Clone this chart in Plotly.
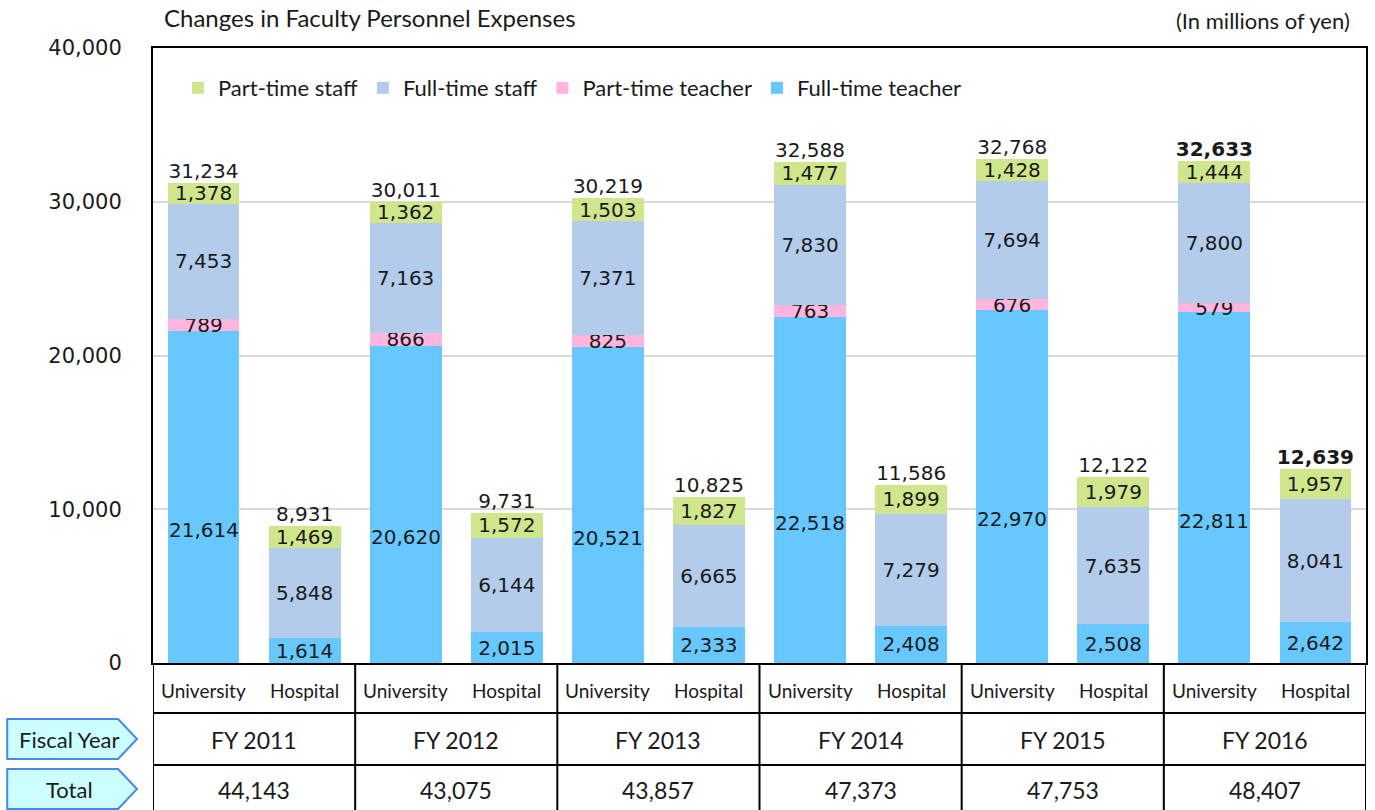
import plotly.graph_objects as go

# ---------------- data ----------------
fiscal_years = ["FY 2011", "FY 2012", "FY 2013", "FY 2014", "FY 2015", "FY 2016"]
units = ["University", "Hospital"]
ft_teacher = [21614, 1614, 20620, 2015, 20521, 2333, 22518, 2408, 22970, 2508, 22811, 2642]
pt_teacher = [789, 0, 866, 0, 825, 0, 763, 0, 676, 0, 579, 0]
ft_staff = [7453, 5848, 7163, 6144, 7371, 6665, 7830, 7279, 7694, 7635, 7800, 8041]
pt_staff = [1378, 1469, 1362, 1572, 1503, 1827, 1477, 1899, 1428, 1979, 1444, 1957]
bar_totals = [31234, 8931, 30011, 9731, 30219, 10825, 32588, 11586, 32768, 12122, 32633, 12639]
grand_totals = [44143, 43075, 43857, 47373, 47753, 48407]

# ---------------- layout geometry ----------------
W, H = 1375, 810
L, R, T, B = 153, 7, 48, 147
PW, PH = W - L - R, H - T - B


def px(p):
    return (p - L) / PW


def py(p):
    return (H - B - p) / PH


NUM_FONT = "DejaVu Sans"
TXT_FONT = "Lato"
INK = "#1a1a1a"

C_FTT = "#66C8FF"
C_PTT = "#FFB5DD"
C_FTS = "#B3CCEB"
C_PTS = "#CFE68C"

n = len(ft_teacher)
xs = list(range(n))
last_group = {n - 2, n - 1}


def fmt(v):
    return f"{v:,}" if v else ""


fig = go.Figure()

fig.add_trace(go.Bar(
    x=xs, y=ft_teacher, name="Full-time teacher", marker=dict(color=C_FTT, line=dict(width=0)),
    text=[fmt(v) if i % 2 == 1 else "" for i, v in enumerate(ft_teacher)],
))
fig.add_trace(go.Bar(
    x=xs, y=pt_teacher, name="Part-time teacher", marker=dict(color=C_PTT, line=dict(width=0)),
    text=[fmt(v) for v in pt_teacher],
))
fig.add_trace(go.Bar(
    x=xs, y=ft_staff, name="Full-time staff", marker=dict(color=C_FTS, line=dict(width=0)),
    text=[fmt(v) for v in ft_staff],
))
fig.add_trace(go.Bar(
    x=xs, y=pt_staff, name="Part-time staff", marker=dict(color=C_PTS, line=dict(width=0)),
    text=[fmt(v) for v in pt_staff],
))
fig.update_traces(
    selector=dict(type="bar"),
    textposition="inside", insidetextanchor="middle", textangle=0,
    textfont=dict(family=NUM_FONT, size=20, color=INK),
    constraintext="none", cliponaxis=False, hoverinfo="skip",
)

fig.add_trace(go.Scatter(
    x=xs, y=bar_totals, mode="text",
    text=[f"<b>{v:,}</b>" if i in last_group else f"{v:,}" for i, v in enumerate(bar_totals)],
    textposition="top center",
    textfont=dict(family=NUM_FONT, size=20, color=INK),
    showlegend=False, hoverinfo="skip", cliponaxis=False,
))

annotations = []


def ann(x, y, text, size, family=TXT_FONT, xref="paper", yref="paper", xanchor="center", **kw):
    annotations.append(dict(x=x, y=y, xref=xref, yref=yref, text=text, showarrow=False,
                            xanchor=xanchor, yanchor="middle",
                            font=dict(family=family, size=size, color=INK), **kw))


for i, v in enumerate(ft_teacher):
    if i % 2 == 0:
        ann(i, v / 2, fmt(v), 20, family=NUM_FONT, xref="x", yref="y", yshift=-33)

for i in xs:
    ann(i, py(691), units[i % 2], 19, xref="x")
for g, fy in enumerate(fiscal_years):
    ann(2 * g + 0.5, py(740), fy, 23, xref="x")
    ann(2 * g + 0.5, py(790), f"{grand_totals[g]:,}", 23, xref="x")

ann(px(69), py(739), "Fiscal Year", 22)
ann(px(69), py(789), "Total", 22)

ann(px(162), py(18), "Changes in Faculty Personnel Expenses", 24, xanchor="left")
ann(px(1354), py(21), "(In millions of yen)", 22, xanchor="right")

shapes = []
line = dict(color="black", width=2)
for yy in (713, 765):
    shapes.append(dict(type="line", xref="paper", yref="paper", x0=0, x1=1,
                       y0=py(yy), y1=py(yy), line=line))
for b in [k * 2 - 0.5 for k in range(len(fiscal_years) + 1)]:
    shapes.append(dict(type="line", xref="x", yref="paper", x0=b, x1=b,
                       y0=py(663), y1=py(H), line=line))


def arrow(y0, y1):
    ym = (y0 + y1) / 2
    return (f"M {px(7)},{py(y0)} L {px(118)},{py(y0)} L {px(137)},{py(ym)} "
            f"L {px(118)},{py(y1)} L {px(7)},{py(y1)} Z")


for y0, y1 in ((719, 759), (769, 809)):
    shapes.append(dict(type="path", xref="paper", yref="paper", path=arrow(y0, y1),
                       fillcolor="#CCFFFF", line=dict(color="#4A86E8", width=2), layer="below"))

fig.update_layout(
    width=W, height=H,
    margin=dict(l=L, r=R, t=T, b=B, pad=0),
    barmode="stack", bargap=0.29,
    plot_bgcolor="white", paper_bgcolor="white",
    uniformtext=dict(minsize=20, mode="show"),
    xaxis=dict(range=[-0.5, n - 0.5], showticklabels=False, showgrid=False, zeroline=False,
               showline=True, linecolor="black", linewidth=2, mirror=True, ticks=""),
    yaxis=dict(range=[0, 40000], dtick=10000, tickformat=",", showgrid=True,
               gridcolor="#D9D9D9", gridwidth=2, zeroline=False, showline=True,
               linecolor="black", linewidth=2, mirror=True, ticks="",
               ticklabelstandoff=25,
               tickfont=dict(family=NUM_FONT, size=21, color=INK)),
    legend=dict(orientation="h", x=px(178), y=py(88), xanchor="left", yanchor="middle",
                traceorder="reversed", bgcolor="rgba(0,0,0,0)", itemwidth=30,
                font=dict(family=TXT_FONT, size=22, color=INK)),
    annotations=annotations,
    shapes=shapes,
    showlegend=True,
)

fig.write_html("out.html", config={"displayModeBar": False},
               post_script="document.body.style.margin='0';")
